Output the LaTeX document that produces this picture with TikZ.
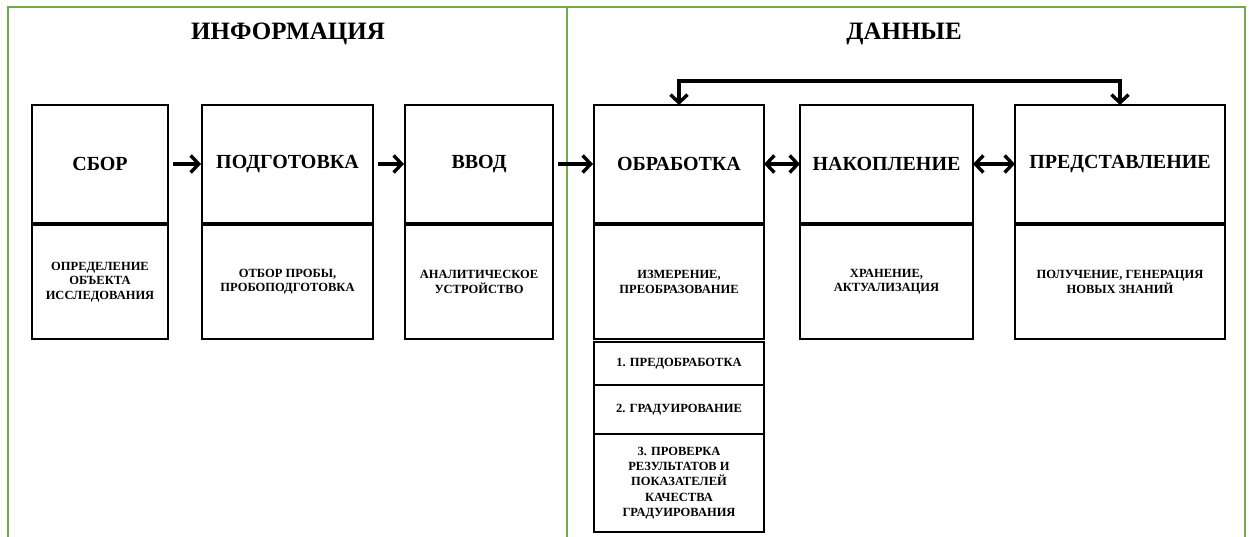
\documentclass[tikz,border=0pt]{standalone}
\usepackage{fontspec}
\setmainfont{Liberation Serif}
\usetikzlibrary{arrows.meta,positioning}
\definecolor{framegreen}{HTML}{70AD47}

\begin{document}
\begin{tikzpicture}[
  x=1pt, y=-1pt,
  >={Straight Barb[length=8pt,width=17pt,line width'=3.4pt]},
  frame/.style={draw=framegreen, line width=2.5pt},
  heading/.style={anchor=base, font=\bfseries\fontsize{25}{28}\selectfont},
  stage/.style={draw, line width=2.6pt, outer sep=0pt, anchor=north west, minimum height=118pt, inner sep=2pt, font=\bfseries\fontsize{20}{24}\selectfont},
  descr/.style={draw, line width=2.6pt, outer sep=0pt, minimum height=114.5pt, inner sep=2pt, align=center, font=\bfseries\fontsize{12.5}{14.5}\selectfont},
  substep/.style={draw, line width=2.6pt, outer sep=0pt, minimum width=170pt, inner sep=2pt, align=center, font=\bfseries\fontsize{12.5}{15.3}\selectfont},
  flow/.style={->, line width=3.5pt, shorten <=5pt, shorten >=1pt},
  bothway/.style={<->, line width=3.5pt}
]
\useasboundingbox (0,0) rectangle (1252,537);

\draw[frame] (8,545) -- (8,7) -- (1245,7) -- (1245,545);
\draw[frame] (567,7) -- (567,545);

\node[heading] (info) at (288,40) {ИНФОРМАЦИЯ};
\node[heading] (data) at (904,40) {ДАННЫЕ};

% information side
\node[stage, minimum width=136pt] (sbor) at (32,105) {СБОР};
\node[descr, minimum width=136pt, below=1.5pt of sbor] (sbord) {ОПРЕДЕЛЕНИЕ\\ОБЪЕКТА\\ИССЛЕДОВАНИЯ};
\node[stage, minimum width=171pt] (podg) at (202,105) {ПОДГОТОВКА};
\node[descr, minimum width=171pt, below=1.5pt of podg] (podgd) {ОТБОР ПРОБЫ,\\ПРОБОПОДГОТОВКА};
\node[stage, minimum width=148pt] (vvod) at (405,105) {ВВОД};
\node[descr, minimum width=148pt, below=1.5pt of vvod] (vvodd) {АНАЛИТИЧЕСКОЕ\\УСТРОЙСТВО};

% data side
\node[stage, minimum width=170pt] (obr) at (594,105) {ОБРАБОТКА};
\node[descr, minimum width=170pt, below=1.5pt of obr] (obrd) {ИЗМЕРЕНИЕ,\\ПРЕОБРАЗОВАНИЕ};
\node[stage, minimum width=173pt] (nakop) at (800,105) {НАКОПЛЕНИЕ};
\node[descr, minimum width=173pt, below=1.5pt of nakop] (nakopd) {ХРАНЕНИЕ,\\АКТУАЛИЗАЦИЯ};
\node[stage, minimum width=210pt] (pred) at (1015,105) {ПРЕДСТАВЛЕНИЕ};
\node[descr, minimum width=210pt, below=1.5pt of pred] (predd) {ПОЛУЧЕНИЕ, ГЕНЕРАЦИЯ\\НОВЫХ ЗНАНИЙ};

\node[substep, minimum height=43pt, below=3pt of obrd] (sub1) {1. ПРЕДОБРАБОТКА};
\node[substep, minimum height=49pt, below=0pt of sub1] (sub2) {2. ГРАДУИРОВАНИЕ};
\node[substep, minimum height=98pt, below=0pt of sub2] (sub3) {3. ПРОВЕРКА\\РЕЗУЛЬТАТОВ И\\ПОКАЗАТЕЛЕЙ\\КАЧЕСТВА\\ГРАДУИРОВАНИЯ};

\draw[flow] (sbor) -- (podg);
\draw[flow] (podg) -- (vvod);
\draw[flow] (vvod) -- (obr);
\draw[bothway] (obr) -- (nakop);
\draw[bothway] (nakop) -- (pred);
\draw[bothway] (obr.north) -- ++(0,-24) -| (pred.north);
\end{tikzpicture}
\end{document}
